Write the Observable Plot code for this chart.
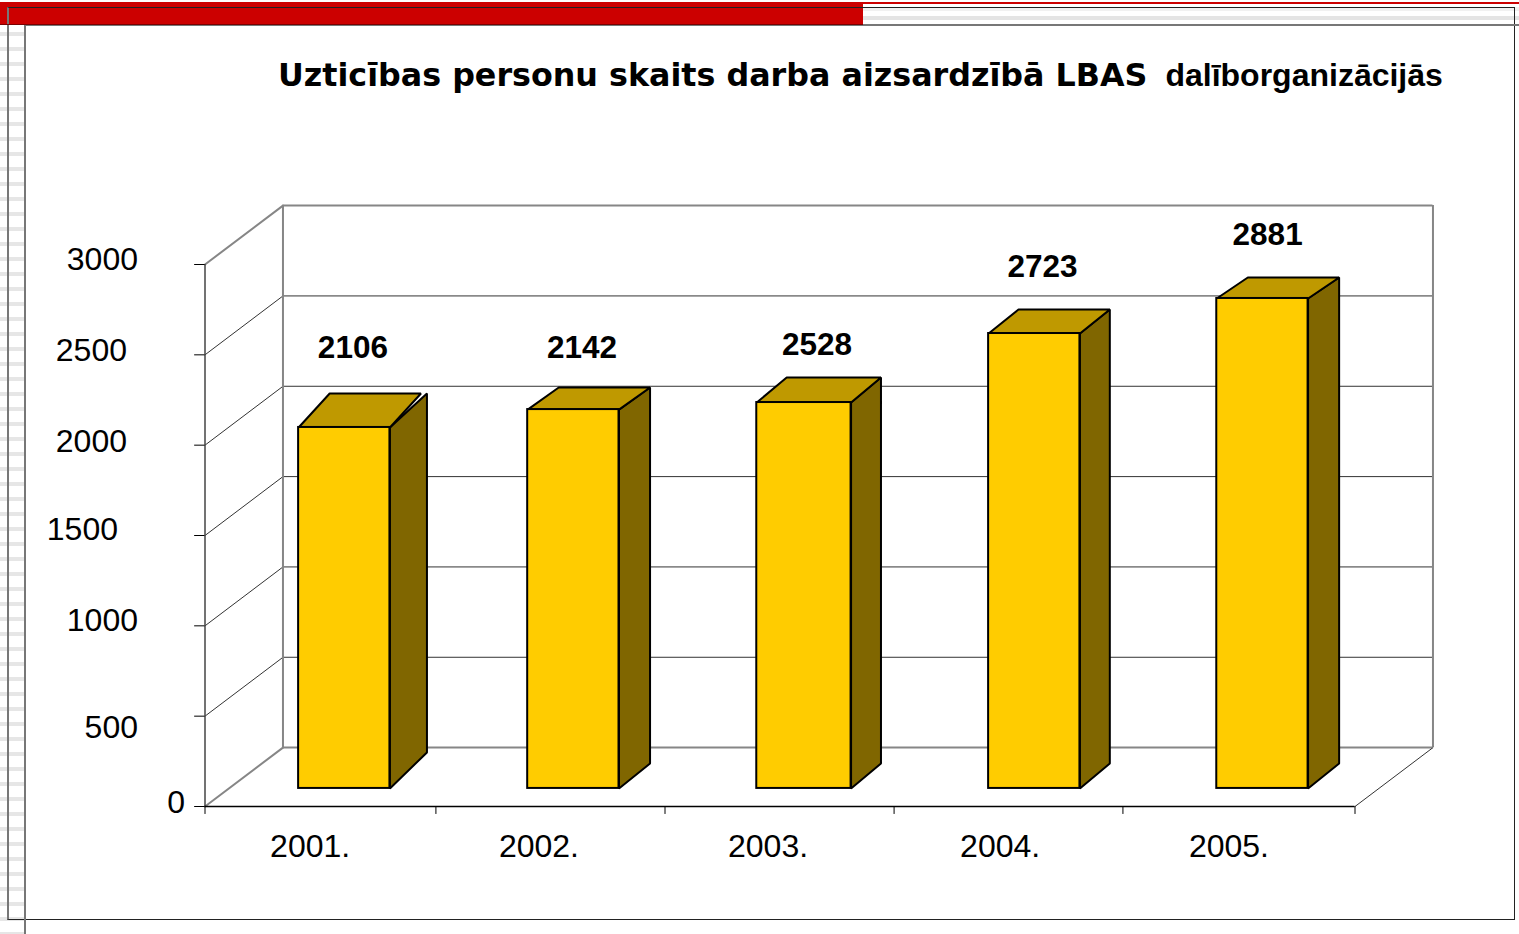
<!DOCTYPE html>
<html lang="lv">
<head>
<meta charset="utf-8">
<script src="https://cdn.jsdelivr.net/npm/d3@7"></script>
<script src="https://cdn.jsdelivr.net/npm/@observablehq/plot@0.6"></script>
<style>
html,body{margin:0;padding:0;background:#fff;width:1519px;height:934px;overflow:hidden}
#page{position:relative;width:1519px;height:934px;overflow:hidden}
.d{position:absolute}
#chart{position:absolute;left:0;top:0}
#chart svg{background:transparent;display:block}
#title{position:absolute;left:278px;top:52px;margin:0;white-space:nowrap;font-family:"DejaVu Sans",sans-serif;font-weight:700;font-size:31.75px;line-height:46px;color:#000}
#title span{font-family:"Liberation Sans",Arial,sans-serif;font-size:32px;margin-left:18px}
</style>
</head>
<body>
<div id="page">
  <div class="d" style="left:0;top:7px;width:24px;height:927px;background:repeating-linear-gradient(#fff 0 10px,#e6e6e6 10px 14px,#fff 14px 15px)"></div>
  <div class="d" style="left:24px;top:7px;width:1495px;height:17px;background:linear-gradient(#f1f1f1 0 4px,#fff 4px 9px,#e4e4e4 9px 13px,#fff 13px 17px)"></div>
  <div class="d" style="left:863px;top:2px;width:656px;height:2px;background:#cc0000"></div>
  <div class="d" style="left:0;top:2px;width:863px;height:23px;background:#cc0000"></div>
  <div class="d" style="left:7px;top:7px;width:1505px;height:911px;border:1px solid #222;border-left:2px solid #777"></div>
  <div class="d" style="left:24px;top:24px;width:1495px;height:2px;background:#777"></div>
  <div class="d" style="left:0;top:24px;width:863px;height:1px;background:#7a0000"></div>
  <div class="d" style="left:24px;top:25px;width:2px;height:909px;background:#777"></div>
  <h1 id="title">Uzticības personu skaits darba aizsardzībā LBAS<span>dalīborganizācijās</span></h1>
  <div id="chart"></div>
</div>
<script>
const categories = ["2001.", "2002.", "2003.", "2004.", "2005."];
const barLabels = [2106, 2142, 2528, 2723, 2881];
const barTops = [2098, 2197, 2236, 2618, 2812];
const yTicks = [0, 500, 1000, 1500, 2000, 2500, 3000];
const categoryEdges = [0, 1.004, 2, 2.996, 3.991, 5];

// geometry of the drawn 3-D boxes, in scale units
const BAR_BASE = 100;
const barLeft = [0.407, 1.403, 2.399, 3.407, 4.399];
const barRight = [0.804, 1.8, 2.809, 3.804, 4.796];
const topShift = [0.135, 0.135, 0.13, 0.13, 0.135];
const sideShift = [0.161, 0.135, 0.13, 0.13, 0.135];
const topRise = [188, 122, 138, 133, 116];
const baseRise = [199, 138, 138, 138, 138];
const WALL_DX = 0.339, WALL_DY = 326;
const TICK_X = -0.045, TICK_Y = -44;

// layout nudges of the irregularly placed labels, in pixels
const yLabelDx = {0: -20, 500: -67, 1000: -67, 1500: -87, 2000: -78, 2500: -78, 3000: -67};
const yLabelDy = {0: -4, 500: 12, 1000: -5, 1500: -6, 2000: -3, 2500: -4, 3000: -5};
const catLabelX = [0.457, 1.452, 2.448, 3.457, 4.452];
const valueLabelX = [0.643, 1.639, 2.661, 3.641, 4.620];
const valueLabelY = [2539, 2539, 2556, 2984, 3164];

const ink = "#000", wall = "#868686";
const poly = (pts, k) => pts.map(([x, y]) => ({x, y, k}));
const tops = categories.flatMap((_, i) => poly([
  [barLeft[i], barTops[i]], [barRight[i], barTops[i]],
  [barRight[i] + topShift[i], barTops[i] + topRise[i]], [barLeft[i] + topShift[i], barTops[i] + topRise[i]]
], i));
const sides = categories.flatMap((_, i) => poly([
  [barRight[i], BAR_BASE], [barRight[i], barTops[i]],
  [barRight[i] + sideShift[i], barTops[i] + topRise[i]], [barRight[i] + sideShift[i], BAR_BASE + baseRise[i]]
], i));
const bars = categories.map((_, i) => ({x1: barLeft[i], x2: barRight[i], y2: barTops[i]}));
const grid = yTicks.filter(v => v > 0 && v < 3000);
const wallLines = yTicks.flatMap(v => [{x: 0, y: v, k: v}, {x: WALL_DX, y: v + WALL_DY, k: v}]);

const plot = Plot.plot({
  width: 1519, height: 934, margin: 0,
  x: {type: "linear", domain: [0, 5], range: [204.5, 1354.5], axis: null},
  y: {type: "linear", domain: [0, 3000], range: [806, 264], axis: null},
  marks: [
    // back wall gridlines
    Plot.ruleY(grid, {y: v => v + WALL_DY, x1: WALL_DX, x2: 5 + WALL_DX, stroke: "#333", strokeWidth: 1}),
    // wall edges
    Plot.line(wallLines.filter(d => d.k > 0 && d.k < 3000), {x: "x", y: "y", z: "k", stroke: "#333", strokeWidth: 1}),
    Plot.line(wallLines.filter(d => d.k === 0 || d.k === 3000), {x: "x", y: "y", z: "k", stroke: wall, strokeWidth: 2}),
    Plot.ruleX([WALL_DX, 5 + WALL_DX], {x: d => d, y1: WALL_DY, y2: 3000 + WALL_DY, stroke: wall, strokeWidth: 2}),
    Plot.ruleY([WALL_DY, 3000 + WALL_DY], {y: d => d, x1: WALL_DX, x2: 5 + WALL_DX, stroke: wall, strokeWidth: 2}),
    Plot.line([{x: 5, y: 0}, {x: 5 + WALL_DX, y: WALL_DY}], {x: "x", y: "y", stroke: "#333", strokeWidth: 1}),
    // axes
    Plot.ruleX([0], {x: d => d, y1: 0, y2: 3000, stroke: "#444", strokeWidth: 1.5}),
    Plot.ruleY(yTicks, {y: d => d, x1: TICK_X, x2: 0, stroke: ink, strokeWidth: 1}),
    Plot.ruleY([0], {y: d => d, x1: 0, x2: 5, stroke: ink, strokeWidth: 1.5}),
    Plot.ruleX(categoryEdges, {x: d => d, y1: 0, y2: TICK_Y, strokeWidth: 1, stroke: ink}),
    // 3-D columns
    Plot.line(sides, {x: "x", y: "y", z: "k", curve: "linear-closed", fill: "#806600", stroke: ink, strokeWidth: 2, strokeLinejoin: "miter"}),
    Plot.line(tops, {x: "x", y: "y", z: "k", curve: "linear-closed", fill: "#bf9900", stroke: ink, strokeWidth: 2, strokeLinejoin: "miter"}),
    Plot.rect(bars, {x1: "x1", x2: "x2", y1: BAR_BASE, y2: "y2", fill: "#ffcc00", stroke: ink, strokeWidth: 2}),
    // labels
    ...yTicks.map(v => Plot.text([v], {
      x: 0, y: d => d, text: d => String(d), dx: yLabelDx[v], dy: yLabelDy[v], textAnchor: "end",
      fontFamily: "Liberation Sans, Arial, sans-serif", fontSize: 32, fill: ink
    })),
    Plot.text(categories, {
      x: (_, i) => catLabelX[i], y: 0, text: d => d, dy: 40, textAnchor: "middle",
      fontFamily: "Liberation Sans, Arial, sans-serif", fontSize: 32, fill: ink
    }),
    Plot.text(barLabels, {
      x: (_, i) => valueLabelX[i], y: (_, i) => valueLabelY[i], text: d => String(d), textAnchor: "middle",
      fontFamily: "Liberation Sans, Arial, sans-serif", fontSize: 31.5, fontWeight: 700, fill: ink
    })
  ]
});
document.getElementById("chart").append(plot);
</script>
</body>
</html>
